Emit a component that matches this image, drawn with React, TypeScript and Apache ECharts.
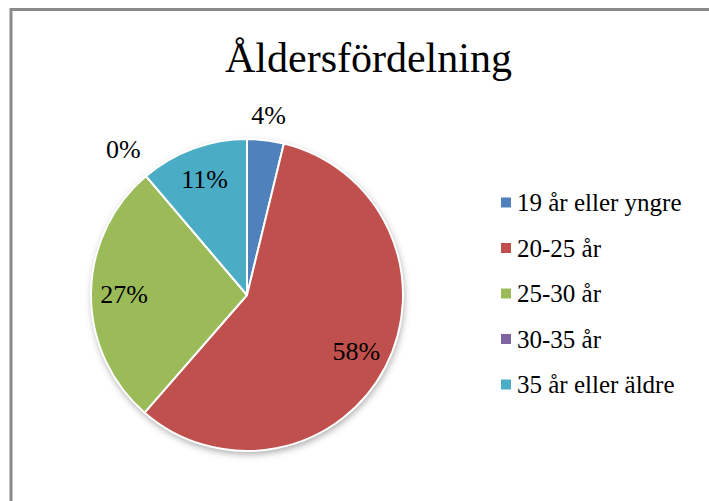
import React, { useEffect, useRef, useState } from "react";
import * as echarts from "echarts";

const TITLE = "Åldersfördelning";
const CATEGORIES = ["19 år eller yngre", "20-25 år", "25-30 år", "30-35 år", "35 år eller äldre"];
// shares in percent
const VALUES = [3.8, 57.6, 27.4, 0, 11.2];
const COLORS = ["#4F81BD", "#C0504D", "#9BBB59", "#8064A2", "#4BACC6"];
// which labels sit inside the pie (1) and which sit outside (0)
const INSIDE_LABEL = [0, 1, 1, 0, 1];

const FONT = "Liberation Serif";

export default function App() {
  const ref = useRef<HTMLDivElement>(null);
  const [info, setInfo] = useState("");

  useEffect(() => {
    document.body.style.margin = "0";
    if (!ref.current) return;
    const chart = echarts.init(ref.current, null, { renderer: "svg" });

    const center = [247, 295];
    const R = 156;

    const labelStyle = {
      color: "#000",
      fontSize: 26,
      fontFamily: FONT,
      formatter: "{d}%",
    };

    const hiddenRing = (radius: (number | string)[], showIdx: (i: number) => boolean) => ({
      type: "pie",
      radius,
      center,
      startAngle: 90,
      clockwise: true,
      percentPrecision: 0,
      avoidLabelOverlap: false,
      silent: true,
      legendHoverLink: false,
      itemStyle: { color: "rgba(0,0,0,0)", borderWidth: 0 },
      label: { ...labelStyle },
      labelLine: { show: false },
      z: 5,
      data: CATEGORIES.map((name, i) => ({
        name,
        value: VALUES[i],
        label: { show: showIdx(i), position: "inside", ...labelStyle },
      })),
    });

    chart.setOption({
      animation: false,
      backgroundColor: "#fff",
      title: {
        text: TITLE,
        left: 220,
        top: 32,
        textStyle: { fontSize: 42, fontWeight: "normal", color: "#000", fontFamily: FONT },
      },
      legend: {
        orient: "vertical",
        left: 499,
        top: 190,
        padding: 0,
        itemWidth: 12,
        itemHeight: 12,
        itemGap: 20.5,
        icon: "rect",
        data: CATEGORIES,
        textStyle: {
          fontSize: 25,
          color: "#000",
          fontFamily: FONT,
        },
      },
      graphic: [
        {
          type: "polyline",
          shape: { points: [[11, 600], [11, 9.5], [800, 9.5]] },
          style: { stroke: "#8a8a8a", lineWidth: 3, fill: "none" },
          silent: true,
        },
      ],
      series: [
        {
          type: "pie",
          radius: R,
          center,
          silent: true,
          legendHoverLink: false,
          label: { show: false },
          labelLine: { show: false },
          z: 1,
          itemStyle: {
            color: "#fff",
            shadowBlur: 7,
            shadowColor: "rgba(0,0,0,0.35)",
            shadowOffsetX: 1,
            shadowOffsetY: 3,
          },
          data: [{ name: "_bg", value: 1 }],
        },
        {
          type: "pie",
          radius: R,
          center,
          startAngle: 90,
          clockwise: true,
          percentPrecision: 0,
          label: { show: false },
          labelLine: { show: false },
          z: 2,
          itemStyle: { borderColor: "#fff", borderWidth: 2 },
          data: CATEGORIES.map((name, i) => ({
            name,
            value: VALUES[i],
            itemStyle: { color: COLORS[i] },
          })),
        },
        hiddenRing([84, R], (i) => INSIDE_LABEL[i] === 1),
        hiddenRing([R, 200], (i) => i === 0),
        hiddenRing([R, 220], (i) => i === 3),
      ],
    });

    // a late page update makes the browser re-resolve the fonts of every text
    const timer = setTimeout(() => {
      if (!ref.current) return;
      const texts = ref.current.querySelectorAll("text");
      const arr: string[] = [];
      texts.forEach((t) => arr.push((t.getAttribute("style") || "").length > 0 ? "." : ""));
      setInfo(arr.join(""));
    }, 50);

    return () => {
      clearTimeout(timer);
      chart.dispose();
    };
  }, []);

  return (
    <div style={{ position: "relative" }}>
      <pre
        style={{
          position: "absolute",
          left: 600,
          top: 440,
          fontSize: 8,
          margin: 0,
          zIndex: 0,
          whiteSpace: "pre-wrap",
          width: 60,
        }}
      >
        {info}
      </pre>
      <div
        ref={ref}
        style={{ position: "relative", zIndex: 1, width: 709, height: 501, background: "#fff" }}
      />
    </div>
  );
}
